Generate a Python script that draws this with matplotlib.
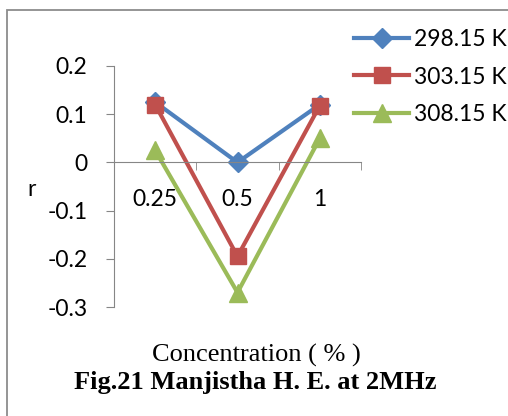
import matplotlib.pyplot as plt
from matplotlib.patches import Rectangle

# data
conc = ['0.25', '0.5', '1']
r_298 = [0.125, 0.0, 0.12]
r_303 = [0.12, -0.195, 0.118]
r_308 = [0.025, -0.27, 0.05]
series_names = ['298.15 K', '303.15 K', '308.15 K']
y_ticks = [0.2, 0.1, 0, -0.1, -0.2, -0.3]
y_labels = ['0.2', '0.1', '0', '-0.1', '-0.2', '-0.3']

W, H = 508, 416
fig = plt.figure(figsize=(W / 100, H / 100), dpi=100)
ax = fig.add_axes([114 / W, 1 - 307 / H, (361 - 114) / W, (307 - 66) / H])

font = 'Lato'
fs = 16.5
gray = '#868686'

x = [0.5, 1.5, 2.5]
ax.plot(x, r_298, color='#4F81BD', lw=3, marker='D', ms=10, label=series_names[0])
ax.plot(x, r_303, color='#C0504D', lw=3, marker='s', ms=12, label=series_names[1])
ax.plot(x, r_308, color='#9BBB59', lw=3, marker='^', ms=13, label=series_names[2])

ax.set_xlim(0, 3)
ax.set_ylim(-0.3, 0.2)

for s in ['top', 'right']:
    ax.spines[s].set_visible(False)
ax.spines['left'].set_color(gray)
ax.spines['bottom'].set_color(gray)
ax.spines['bottom'].set_position(('data', 0))

ax.set_yticks(y_ticks)
ax.set_yticklabels(y_labels, fontfamily=font, fontsize=fs)
ax.tick_params(axis='y', direction='out', length=6, color=gray, pad=13)

ax.set_xticks(x)
ax.set_xticklabels(conc, fontfamily=font, fontsize=fs)
ax.set_xticks([1, 2, 3], minor=True)
ax.tick_params(axis='x', which='major', length=0, pad=19)
ax.tick_params(axis='x', which='minor', direction='out', length=6, color=gray)

fig.text(32 / W, 1 - 190 / H, 'r', fontfamily=font, fontsize=fs, ha='center', va='center')

leg = fig.legend(loc='upper left', bbox_to_anchor=(354 / W, 1 - 29 / H),
                 frameon=False, prop={'family': font, 'size': fs},
                 handlelength=2.4, handletextpad=0.2, labelspacing=0.72,
                 borderaxespad=0, borderpad=0)

fig.text(256 / W, 1 - 355 / H, 'Concentration ( % )', fontfamily='Liberation Serif',
         fontsize=19, ha='center', va='center')
fig.text(255 / W, 1 - 383 / H, 'Fig.21 Manjistha H. E. at 2MHz', fontfamily='Liberation Serif',
         fontsize=19, fontweight='bold', ha='center', va='center')

# outer chart frame
fig.patches.append(Rectangle((7 / W, -0.1), 1.2, 1 - 10 / H + 0.1, transform=fig.transFigure,
                             fill=False, edgecolor='#8c8c8c', lw=1.3))

fig.savefig('out.png', dpi=100)
